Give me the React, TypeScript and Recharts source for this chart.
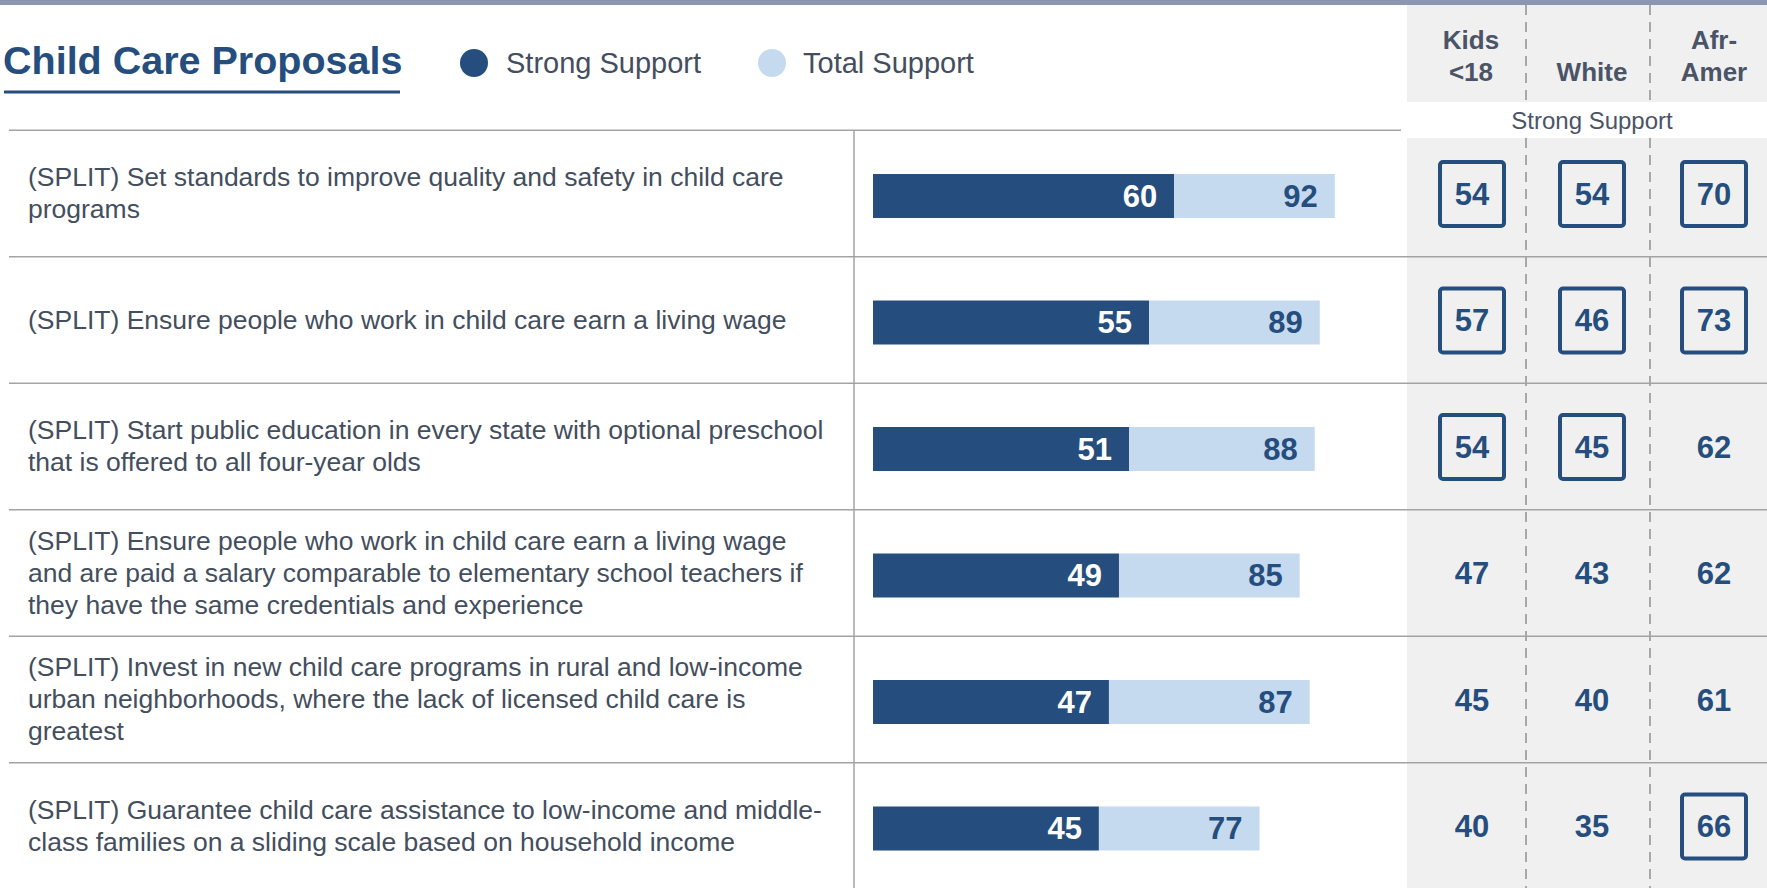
import { BarChart, Bar, XAxis, YAxis, LabelList } from "recharts";

// row labels, wrapped as in the slide
const proposals = [
  "(SPLIT) Set standards to improve quality and safety in child care\nprograms",
  "(SPLIT) Ensure people who work in child care earn a living wage",
  "(SPLIT) Start public education in every state with optional preschool\nthat is offered to all four-year olds",
  "(SPLIT) Ensure people who work in child care earn a living wage\nand are paid a salary comparable to elementary school teachers if\nthey have the same credentials and experience",
  "(SPLIT) Invest in new child care programs in rural and low-income\nurban neighborhoods, where the lack of licensed child care is\ngreatest",
  "(SPLIT) Guarantee child care assistance to low-income and middle-\nclass families on a sliding scale based on household income",
];

const strongSupport = [60, 55, 51, 49, 47, 45];
const totalSupport = [92, 89, 88, 85, 87, 77];

// strong support by subgroup
const kidsUnder18 = [54, 57, 54, 47, 45, 40];
const whiteVoters = [54, 46, 45, 43, 40, 35];
const afrAmer = [70, 73, 62, 62, 61, 66];

// which cells get a box
const kidsBoxed = [true, true, true, false, false, false];
const whiteBoxed = [true, true, true, false, false, false];
const afrAmerBoxed = [true, true, false, false, false, true];

const data = proposals.map((label, i) => ({
  label,
  strong: strongSupport[i],
  rest: totalSupport[i] - strongSupport[i],
  total: totalSupport[i],
  kids: kidsUnder18[i],
  white: whiteVoters[i],
  afr: afrAmer[i],
  kidsBox: kidsBoxed[i],
  whiteBox: whiteBoxed[i],
  afrBox: afrAmerBoxed[i],
}));

const DARK = "#254e7e";
const LIGHT = "#c6daef";
const TEXT = "#434e5e";
const RULE = "#a3a3a3";
const FONT = '"Liberation Sans", Arial, Helvetica, sans-serif';

const W = 1767;
const H = 888;

const PANEL_COLS = [
  { x: 1472, key: "kids", box: "kidsBox" },
  { x: 1592, key: "white", box: "whiteBox" },
  { x: 1714, key: "afr", box: "afrBox" },
];

function RowTick(props: any) {
  const { y, payload } = props;
  const i = props.index ?? payload.index ?? 0;
  const lines = String(payload.value).split("\n");
  const top = y - 66;
  const first = y - 3 - ((lines.length - 1) * 32) / 2;
  return (
    <g>
      <line x1={9} x2={i === 0 ? 1401 : W} y1={top} y2={top} stroke={RULE} strokeWidth={1.5} />
      {lines.map((line, k) => (
        <text
          key={k}
          x={28}
          y={first + k * 32}
          dominantBaseline="central"
          fontSize={26.5}
          fontFamily={FONT}
          fill={TEXT}
        >
          {line}
        </text>
      ))}
    </g>
  );
}

// dark bar plus the subgroup cells of the same row
function StrongBar(props: any) {
  const { x, y, width, height, payload } = props;
  const cy = y + height / 2 - 2;
  return (
    <g>
      <rect x={x} y={y} width={width} height={height} fill={DARK} />
      {PANEL_COLS.map((col) => (
        <g key={col.key}>
          {payload[col.box] && (
            <rect
              x={col.x - 32}
              y={cy - 32}
              width={64}
              height={64}
              rx={3}
              fill="none"
              stroke={DARK}
              strokeWidth={4}
            />
          )}
          <text
            x={col.x}
            y={cy}
            textAnchor="middle"
            dominantBaseline="central"
            fontSize={31}
            fontWeight="bold"
            fontFamily={FONT}
            fill={DARK}
          >
            {payload[col.key]}
          </text>
        </g>
      ))}
    </g>
  );
}

function BarValue(props: any) {
  const { x, y, width, height, value, color } = props;
  return (
    <text
      x={x + width - 17}
      y={y + height / 2}
      textAnchor="end"
      dominantBaseline="central"
      fontSize={31}
      fontWeight="bold"
      fontFamily={FONT}
      fill={color}
    >
      {value}
    </text>
  );
}

function Backdrop() {
  const dash = { stroke: "#a8a8a8", strokeWidth: 2, strokeDasharray: "10 7" };
  const head = {
    fontSize: 26,
    fontWeight: "bold",
    fontFamily: FONT,
    fill: "#4a5466",
    textAnchor: "middle" as const,
  };
  return (
    <svg width={W} height={H} style={{ position: "absolute", left: 0, top: 0 }}>
      <rect x={0} y={0} width={W} height={5} fill="#8b97b1" />
      <rect x={1407} y={5} width={W - 1407} height={H - 5} fill="#f0f0f0" />
      <rect x={1407} y={102} width={W - 1407} height={36} fill="#fff" />
      {[1526, 1650].map((x) => (
        <g key={x}>
          <line x1={x} x2={x} y1={5} y2={102} {...dash} />
          <line x1={x} x2={x} y1={138} y2={H} {...dash} />
        </g>
      ))}
      <line x1={854} x2={854} y1={130} y2={H} stroke={RULE} strokeWidth={1.5} />

      <text x={3} y={74} fontSize={39.5} fontWeight="bold" fontFamily={FONT} fill={DARK}>
        Child Care Proposals
      </text>
      <line x1={4} x2={400} y1={92} y2={92} stroke={DARK} strokeWidth={3} />

      <circle cx={474} cy={63} r={14} fill={DARK} />
      <text x={506} y={73} fontSize={29} fontFamily={FONT} fill={TEXT}>
        Strong Support
      </text>
      <circle cx={772} cy={63} r={14} fill={LIGHT} />
      <text x={803} y={73} fontSize={29} fontFamily={FONT} fill={TEXT}>
        Total Support
      </text>

      <text x={1471} y={49} {...head}>Kids</text>
      <text x={1471} y={81} {...head}>&lt;18</text>
      <text x={1592} y={81} {...head}>White</text>
      <text x={1714} y={49} {...head}>Afr-</text>
      <text x={1714} y={81} {...head}>Amer</text>
      <text
        x={1592}
        y={129}
        textAnchor="middle"
        fontSize={24}
        fontFamily={FONT}
        fill="#4a5466"
      >
        Strong Support
      </text>
    </svg>
  );
}

export default function App() {
  return (
    <div
      style={{
        position: "absolute",
        left: 0,
        top: 0,
        width: W,
        height: H,
        overflow: "hidden",
        background: "#fff",
      }}
    >
      <Backdrop />
      <div style={{ position: "absolute", left: 0, top: 0 }}>
        <BarChart
          width={W}
          height={892}
          data={data}
          layout="vertical"
          margin={{ top: 133, right: 392, bottom: 0, left: 0 }}
          barSize={44}
        >
          <XAxis type="number" domain={[0, 100]} hide />
          <YAxis
            type="category"
            dataKey="label"
            width={873}
            axisLine={false}
            tickLine={false}
            interval={0}
            tick={(p: any) => <RowTick {...p} />}
          />
          <Bar dataKey="strong" stackId="s" fill={DARK} shape={(p: any) => <StrongBar {...p} />} isAnimationActive={false}>
            <LabelList dataKey="strong" content={(p: any) => <BarValue {...p} color="#ffffff" />} />
          </Bar>
          <Bar dataKey="rest" stackId="s" fill={LIGHT} isAnimationActive={false}>
            <LabelList dataKey="total" content={(p: any) => <BarValue {...p} color={DARK} />} />
          </Bar>
        </BarChart>
      </div>
    </div>
  );
}
